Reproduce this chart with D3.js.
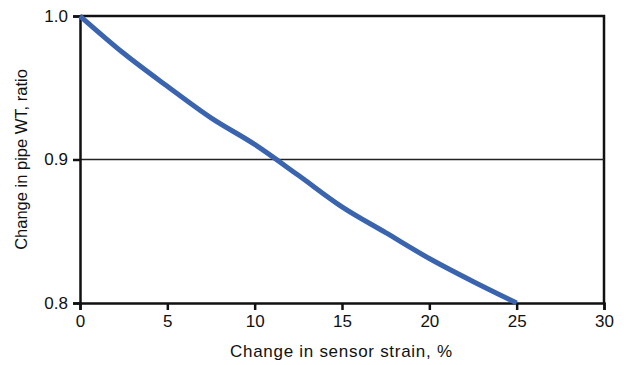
<!DOCTYPE html>
<html>
<head>
<meta charset="utf-8">
<script src="https://cdn.jsdelivr.net/npm/d3@7"></script>
<style>
  body { margin: 0; background: #fff; }
  svg { font-family: "Liberation Sans", Arial, sans-serif; }
</style>
</head>
<body>
<script>
// values
const strain = [0, 2.5, 5, 7.5, 10, 12.5, 15, 17.5, 20, 22.5, 25]
const wtRatio = [1.0, 0.974, 0.951, 0.929, 0.9105, 0.889, 0.867, 0.849, 0.831, 0.815, 0.8]
const xTicks = [0, 5, 10, 15, 20, 25, 30]
const yTicks = [0.8, 0.9, 1.0]
const xTitle = 'Change in sensor strain, %'
const yTitle = 'Change in pipe WT, ratio'

const width = 630, height = 365
const margin = {top: 16, right: 26, bottom: 62, left: 80}

const svg = d3.select('body').append('svg')
    .attr('width', width)
    .attr('height', height)

const x = d3.scaleLinear().domain([0, 30]).range([margin.left, width - margin.right])
const y = d3.scaleLinear().domain([0.8, 1.0]).range([height - margin.bottom, margin.top])

// frame top + right
svg.append('path')
    .attr('fill', 'none')
    .attr('stroke', '#111')
    .attr('stroke-width', 2.5)
    .attr('d', `M${x(0)},${y(1)}H${x(30)}V${y(0.8)}`)

// gridline at 0.9
svg.append('line')
    .attr('x1', x(0)).attr('x2', x(30))
    .attr('y1', y(0.9)).attr('y2', y(0.9))
    .attr('stroke', '#222')
    .attr('stroke-width', 1.3)

const xAxis = svg.append('g')
    .attr('transform', `translate(0,${y(0.8)})`)
    .call(d3.axisBottom(x).tickValues(xTicks).tickSize(7).tickPadding(5).tickFormat(d3.format('d')))
xAxis.select('.domain').attr('stroke', '#111').attr('stroke-width', 2.5)
xAxis.selectAll('.tick line').attr('stroke', '#111').attr('stroke-width', 2.5)
xAxis.selectAll('.tick text').attr('font-size', 17).attr('fill', '#111')

const yAxis = svg.append('g')
    .attr('transform', `translate(${x(0)},0)`)
    .call(d3.axisLeft(y).tickValues(yTicks).tickSize(7).tickPadding(5).tickFormat(d3.format('.1f')))
yAxis.select('.domain').attr('stroke', '#111').attr('stroke-width', 2.5)
yAxis.selectAll('.tick line').attr('stroke', '#111').attr('stroke-width', 2.5)
yAxis.selectAll('.tick text').attr('font-size', 17).attr('fill', '#111')

// the curve
svg.append('path')
    .datum(strain.map((s, i) => [s, wtRatio[i]]))
    .attr('fill', 'none')
    .attr('stroke', '#3a64ae')
    .attr('stroke-width', 5)
    .attr('d', d3.line().x(d => x(d[0])).y(d => y(d[1])).curve(d3.curveMonotoneX))

svg.append('text')
    .attr('x', 341)
    .attr('y', 357)
    .attr('text-anchor', 'middle')
    .attr('font-size', 17)
    .attr('textLength', 222)
    .attr('lengthAdjust', 'spacing')
    .attr('fill', '#111')
    .text(xTitle)

svg.append('text')
    .attr('transform', `translate(27,${(y(0.8) + y(1)) / 2}) rotate(-90)`)
    .attr('text-anchor', 'middle')
    .attr('font-size', 16.5)
    .attr('fill', '#111')
    .text(yTitle)
</script>
</body>
</html>
